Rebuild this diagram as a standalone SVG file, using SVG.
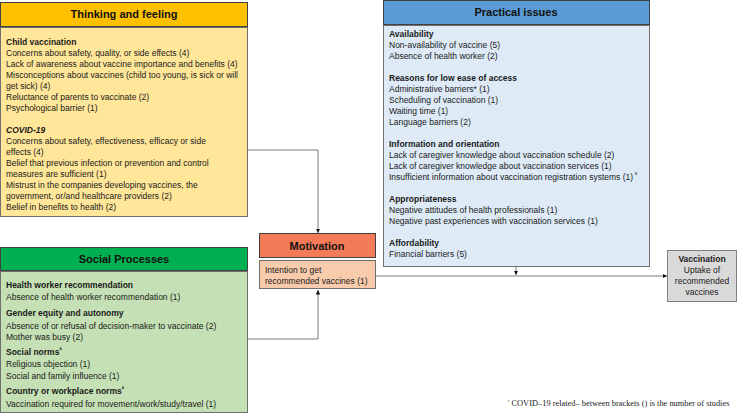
<svg xmlns="http://www.w3.org/2000/svg" width="738" height="414" viewBox="0 0 738 414">
<defs>
<style>
.t{font-family:"Liberation Sans",Arial,sans-serif;font-size:8.5px;fill:#1a1a1a}
.b{font-weight:bold}
.h{font-family:"Liberation Sans",Arial,sans-serif;font-size:11px;font-weight:bold;fill:#111;text-anchor:middle}
.hd{stroke:#404040;stroke-width:1}
.bd{stroke:#6f6f6f;stroke-width:1}
.c{fill:none;stroke:#595959;stroke-width:0.8}
.sup{font-size:6px}
</style>
<marker id="ar" markerWidth="6" markerHeight="6" refX="4.5" refY="2.5" orient="auto" markerUnits="userSpaceOnUse">
<path d="M0,0.3 L4.5,2.5 L0,4.7 Z" fill="#111"/>
</marker>
</defs>
<rect width="738" height="414" fill="#fff"/>

<g id="connectors">
<path class="c" d="M248,150 H318 V233" marker-end="url(#ar)"/>
<path class="c" d="M248,339 H318 V290" marker-end="url(#ar)"/>
<path class="c" d="M376,276 H667" marker-end="url(#ar)"/>
<path class="c" d="M516,266 V275" marker-end="url(#ar)"/>
</g>

<g id="thinking">
<rect class="hd" x="0.5" y="2.5" width="247" height="24" fill="#FFC000"/>
<text class="h" x="124" y="18">Thinking and feeling</text>
<rect class="bd" x="0.5" y="27.5" width="247" height="189" fill="#FFE699"/>
<text class="t b" x="6" y="45">Child vaccination</text>
<text class="t" x="6" y="56">Concerns about safety, quality, or side effects (4)</text>
<text class="t" x="6" y="67">Lack of awareness about vaccine importance and benefits (4)</text>
<text class="t" x="6" y="78">Misconceptions about vaccines (child too young, is sick or will</text>
<text class="t" x="6" y="89">get sick) (4)</text>
<text class="t" x="6" y="100">Reluctance of parents to vaccinate (2)</text>
<text class="t" x="6" y="111">Psychological barrier (1)</text>
<text class="t b" x="6" y="133" font-style="italic">COVID-19</text>
<text class="t" x="6" y="144">Concerns about safety, effectiveness, efficacy or side</text>
<text class="t" x="6" y="155">effects (4)</text>
<text class="t" x="6" y="166">Belief that previous infection or prevention and control</text>
<text class="t" x="6" y="177">measures are sufficient (1)</text>
<text class="t" x="6" y="188">Mistrust in the companies developing vaccines, the</text>
<text class="t" x="6" y="199">government, or/and healthcare providers (2)</text>
<text class="t" x="6" y="210">Belief in benefits to health (2)</text>
</g>

<g id="social">
<rect class="hd" x="0.5" y="247.5" width="247" height="23" fill="#00B050"/>
<text class="h" x="124" y="263">Social Processes</text>
<rect class="bd" x="0.5" y="271.5" width="247" height="141" fill="#C5E0B4"/>
<text class="t b" x="6" y="288">Health worker  recommendation</text>
<text class="t" x="6" y="300">Absence of health worker recommendation (1)</text>
<text class="t b" x="6" y="316">Gender equity  and autonomy</text>
<text class="t" x="6" y="329">Absence of or refusal of decision-maker to vaccinate (2)</text>
<text class="t" x="6" y="340">Mother was busy (2)</text>
<text class="t b" x="6" y="355">Social norms<tspan class="sup" dy="-3">ª</tspan></text>
<text class="t" x="6" y="367">Religious objection (1)</text>
<text class="t" x="6" y="379">Social and family influence (1)</text>
<text class="t b" x="6" y="394">Country or workplace norms<tspan class="sup" dy="-3">ª</tspan></text>
<text class="t" x="6" y="407" font-size="8.8">Vaccination required for movement/work/study/travel (1)</text>
</g>

<g id="motivation">
<rect class="hd" x="259.5" y="233.5" width="116" height="24" fill="#F47B57"/>
<text class="h" x="317" y="250" font-size="12">Motivation</text>
<rect class="bd" x="259.5" y="260.5" width="116" height="28" fill="#F8CBAD"/>
<text class="t" x="265" y="273">Intention to get</text>
<text class="t" x="265" y="284">recommended vaccines (1)</text>
</g>

<g id="practical">
<rect class="hd" x="383.5" y="0.5" width="266" height="24" fill="#5B9BD5"/>
<text class="h" x="516" y="16">Practical issues</text>
<rect class="bd" x="383.5" y="25.5" width="266" height="241" fill="#DEEBF7"/>
<text class="t b" x="389" y="37">Availability</text>
<text class="t" x="389" y="48">Non-availability of vaccine (5)</text>
<text class="t" x="389" y="59">Absence of health worker (2)</text>
<text class="t b" x="389" y="81">Reasons for low ease of access</text>
<text class="t" x="389" y="92">Administrative barriers* (1)</text>
<text class="t" x="389" y="103">Scheduling of vaccination (1)</text>
<text class="t" x="389" y="114">Waiting time (1)</text>
<text class="t" x="389" y="125">Language barriers (2)</text>
<text class="t b" x="389" y="147">Information and orientation</text>
<text class="t" x="389" y="158">Lack of caregiver knowledge about vaccination schedule (2)</text>
<text class="t" x="389" y="169">Lack of caregiver knowledge about vaccination services (1)</text>
<text class="t" x="389" y="180" font-size="8.2">Insufficient information about vaccination registration systems (1)<tspan class="sup" dy="-3"> ª</tspan></text>
<text class="t b" x="389" y="202">Appropriateness</text>
<text class="t" x="389" y="213">Negative attitudes of health professionals (1)</text>
<text class="t" x="389" y="224">Negative past experiences with vaccination services (1)</text>
<text class="t b" x="389" y="246">Affordability</text>
<text class="t" x="389" y="257">Financial barriers (5)</text>
</g>

<g id="vaccination">
<rect x="667.5" y="250.5" width="69" height="51" fill="#D9D9D9" stroke="#7f7f7f" stroke-width="1"/>
<text class="t b" x="702" y="262" text-anchor="middle">Vaccination</text>
<text class="t" x="702" y="273" text-anchor="middle">Uptake of</text>
<text class="t" x="702" y="284" text-anchor="middle">recommended</text>
<text class="t" x="702" y="295" text-anchor="middle">vaccines</text>
</g>

<text x="508" y="406" font-family="'Liberation Serif','Times New Roman',serif" font-size="8.4" fill="#222"><tspan font-size="5" dy="-2.5">ª</tspan><tspan dy="2.5"> COVID–19 related– between brackets () is the number of studies</tspan></text>
</svg>
